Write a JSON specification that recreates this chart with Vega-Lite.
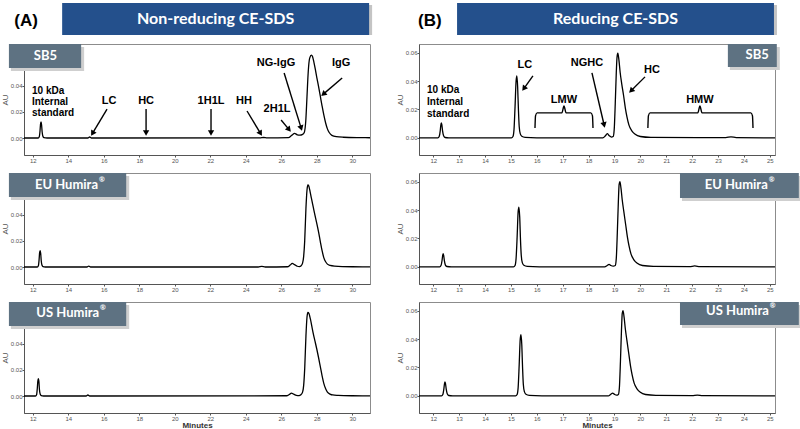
{
"$schema": "https://vega.github.io/schema/vega-lite/v6.json",
"background": "white",
"padding": {"left": 0, "top": 3, "right": 0, "bottom": 0},
"config": {
  "font": "Liberation Sans",
  "view": {"stroke": "#8c8c8c"},
  "axis": {"grid": false, "domainColor": "#555", "tickColor": "#555", "tickSize": 2, "labelFontSize": 6, "labelColor": "#555", "labelPadding": 0, "titleFontSize": 8, "titleFontWeight": "normal", "titleColor": "#555", "titlePadding": 1}
},
"datasets": {
  "headers": [
    {"col": "A", "kind": "banner", "t": 13.65, "t2": 30.95},
    {"col": "A", "kind": "title", "t": 22.3, "label": "Non-reducing CE-SDS"},
    {"col": "A", "kind": "tag", "t": 11.62, "label": "(A)"},
    {"col": "B", "kind": "banner", "t": 12.92, "t2": 25.16},
    {"col": "B", "kind": "title", "t": 19.04, "label": "Reducing CE-SDS"},
    {"col": "B", "kind": "tag", "t": 11.87, "label": "(B)"}
  ],
  "traces": [
    {"panel":"A1","t":11.5,"au":0},{"panel":"A1","t":12.3,"au":0},{"panel":"A1","t":12.36,"au":0.001},{"panel":"A1","t":12.4,"au":0.005},{"panel":"A1","t":12.43,"au":0.0105},{"panel":"A1","t":12.46,"au":0.0123},{"panel":"A1","t":12.49,"au":0.0102},{"panel":"A1","t":12.52,"au":0.005},{"panel":"A1","t":12.56,"au":0.0015},{"panel":"A1","t":12.62,"au":0.0003},{"panel":"A1","t":12.8,"au":0},{"panel":"A1","t":15.1,"au":0},{"panel":"A1","t":15.2,"au":0.0008},{"panel":"A1","t":15.3,"au":0},{"panel":"A1","t":24.8,"au":0.0001},{"panel":"A1","t":25.0,"au":0.0004},{"panel":"A1","t":25.2,"au":0.0001},{"panel":"A1","t":26.4,"au":0.0003},{"panel":"A1","t":26.6,"au":0.0022},{"panel":"A1","t":26.75,"au":0.0035},{"panel":"A1","t":26.9,"au":0.0025},{"panel":"A1","t":27.05,"au":0.0022},{"panel":"A1","t":27.2,"au":0.0028},{"panel":"A1","t":27.3,"au":0.0045},{"panel":"A1","t":27.38,"au":0.013},{"panel":"A1","t":27.45,"au":0.032},{"panel":"A1","t":27.52,"au":0.051},{"panel":"A1","t":27.6,"au":0.0612},{"panel":"A1","t":27.7,"au":0.0635},{"panel":"A1","t":27.76,"au":0.0625},{"panel":"A1","t":27.84,"au":0.058},{"panel":"A1","t":27.92,"au":0.0525},{"panel":"A1","t":28.0,"au":0.0465},{"panel":"A1","t":28.1,"au":0.0395},{"panel":"A1","t":28.2,"au":0.032},{"panel":"A1","t":28.3,"au":0.0245},{"panel":"A1","t":28.4,"au":0.0175},{"panel":"A1","t":28.5,"au":0.0115},{"panel":"A1","t":28.6,"au":0.007},{"panel":"A1","t":28.7,"au":0.0042},{"panel":"A1","t":28.85,"au":0.002},{"panel":"A1","t":29.1,"au":0.001},{"panel":"A1","t":29.5,"au":0.0006},{"panel":"A1","t":30.5,"au":0.0003},{"panel":"A1","t":31.0,"au":0.0002},
    {"panel":"A2","t":11.5,"au":0},{"panel":"A2","t":12.25,"au":0},{"panel":"A2","t":12.31,"au":0.001},{"panel":"A2","t":12.35,"au":0.0055},{"panel":"A2","t":12.38,"au":0.011},{"panel":"A2","t":12.41,"au":0.0126},{"panel":"A2","t":12.44,"au":0.0105},{"panel":"A2","t":12.47,"au":0.005},{"panel":"A2","t":12.51,"au":0.0015},{"panel":"A2","t":12.57,"au":0.0003},{"panel":"A2","t":12.7,"au":0},{"panel":"A2","t":15.05,"au":0},{"panel":"A2","t":15.15,"au":0.0007},{"panel":"A2","t":15.25,"au":0},{"panel":"A2","t":24.7,"au":0},{"panel":"A2","t":24.9,"au":0.0005},{"panel":"A2","t":25.1,"au":0},{"panel":"A2","t":26.35,"au":0.0002},{"panel":"A2","t":26.5,"au":0.0015},{"panel":"A2","t":26.62,"au":0.0028},{"panel":"A2","t":26.75,"au":0.0018},{"panel":"A2","t":26.9,"au":0.0006},{"panel":"A2","t":27.02,"au":0.0003},{"panel":"A2","t":27.12,"au":0.001},{"panel":"A2","t":27.2,"au":0.003},{"panel":"A2","t":27.26,"au":0.008},{"panel":"A2","t":27.32,"au":0.02},{"panel":"A2","t":27.39,"au":0.045},{"panel":"A2","t":27.45,"au":0.059},{"panel":"A2","t":27.5,"au":0.0628},{"panel":"A2","t":27.55,"au":0.062},{"panel":"A2","t":27.62,"au":0.058},{"panel":"A2","t":27.7,"au":0.0525},{"panel":"A2","t":27.8,"au":0.046},{"panel":"A2","t":27.9,"au":0.0395},{"panel":"A2","t":28.0,"au":0.0335},{"panel":"A2","t":28.1,"au":0.027},{"panel":"A2","t":28.2,"au":0.0195},{"panel":"A2","t":28.3,"au":0.0125},{"panel":"A2","t":28.4,"au":0.007},{"panel":"A2","t":28.5,"au":0.004},{"panel":"A2","t":28.6,"au":0.0022},{"panel":"A2","t":28.75,"au":0.0012},{"panel":"A2","t":29.0,"au":0.0007},{"panel":"A2","t":30.0,"au":0.0002},{"panel":"A2","t":31.0,"au":0.0001},
    {"panel":"A3","t":11.5,"au":0},{"panel":"A3","t":12.15,"au":0},{"panel":"A3","t":12.21,"au":0.001},{"panel":"A3","t":12.25,"au":0.006},{"panel":"A3","t":12.28,"au":0.0115},{"panel":"A3","t":12.31,"au":0.0133},{"panel":"A3","t":12.34,"au":0.011},{"panel":"A3","t":12.37,"au":0.005},{"panel":"A3","t":12.41,"au":0.0015},{"panel":"A3","t":12.47,"au":0.0003},{"panel":"A3","t":12.6,"au":0},{"panel":"A3","t":15.0,"au":0},{"panel":"A3","t":15.1,"au":0.0008},{"panel":"A3","t":15.2,"au":0},{"panel":"A3","t":26.3,"au":0.0002},{"panel":"A3","t":26.45,"au":0.0012},{"panel":"A3","t":26.57,"au":0.0022},{"panel":"A3","t":26.7,"au":0.0014},{"panel":"A3","t":26.85,"au":0.0005},{"panel":"A3","t":27.0,"au":0.0003},{"panel":"A3","t":27.1,"au":0.001},{"panel":"A3","t":27.2,"au":0.003},{"panel":"A3","t":27.26,"au":0.008},{"panel":"A3","t":27.32,"au":0.021},{"panel":"A3","t":27.39,"au":0.046},{"panel":"A3","t":27.45,"au":0.0605},{"panel":"A3","t":27.5,"au":0.064},{"panel":"A3","t":27.56,"au":0.0632},{"panel":"A3","t":27.64,"au":0.059},{"panel":"A3","t":27.72,"au":0.0535},{"panel":"A3","t":27.8,"au":0.048},{"panel":"A3","t":27.9,"au":0.042},{"panel":"A3","t":28.0,"au":0.036},{"panel":"A3","t":28.1,"au":0.0295},{"panel":"A3","t":28.2,"au":0.0225},{"panel":"A3","t":28.3,"au":0.0155},{"panel":"A3","t":28.4,"au":0.0095},{"panel":"A3","t":28.5,"au":0.0055},{"panel":"A3","t":28.6,"au":0.003},{"panel":"A3","t":28.75,"au":0.0015},{"panel":"A3","t":28.9,"au":0.0008},{"panel":"A3","t":29.2,"au":0.0005},{"panel":"A3","t":30.0,"au":0.0002},{"panel":"A3","t":31.0,"au":0.0001},
    {"panel":"B1","t":11.45,"au":0},{"panel":"B1","t":12.18,"au":0},{"panel":"B1","t":12.23,"au":0.001},{"panel":"B1","t":12.27,"au":0.005},{"panel":"B1","t":12.29,"au":0.0085},{"panel":"B1","t":12.31,"au":0.0106},{"panel":"B1","t":12.33,"au":0.0095},{"panel":"B1","t":12.36,"au":0.005},{"panel":"B1","t":12.4,"au":0.0015},{"panel":"B1","t":12.46,"au":0.0003},{"panel":"B1","t":12.6,"au":0},{"panel":"B1","t":15.02,"au":0},{"panel":"B1","t":15.08,"au":0.001},{"panel":"B1","t":15.12,"au":0.006},{"panel":"B1","t":15.16,"au":0.022},{"panel":"B1","t":15.2,"au":0.04},{"panel":"B1","t":15.23,"au":0.0435},{"panel":"B1","t":15.26,"au":0.036},{"panel":"B1","t":15.29,"au":0.02},{"panel":"B1","t":15.32,"au":0.008},{"panel":"B1","t":15.36,"au":0.003},{"panel":"B1","t":15.42,"au":0.0012},{"panel":"B1","t":15.55,"au":0.0004},{"panel":"B1","t":16.0,"au":0.0001},{"panel":"B1","t":18.55,"au":0},{"panel":"B1","t":18.65,"au":0.0015},{"panel":"B1","t":18.72,"au":0.003},{"panel":"B1","t":18.8,"au":0.0015},{"panel":"B1","t":18.88,"au":0.0006},{"panel":"B1","t":18.95,"au":0.001},{"panel":"B1","t":18.99,"au":0.006},{"panel":"B1","t":19.03,"au":0.024},{"panel":"B1","t":19.07,"au":0.046},{"panel":"B1","t":19.1,"au":0.057},{"panel":"B1","t":19.13,"au":0.0595},{"panel":"B1","t":19.17,"au":0.055},{"panel":"B1","t":19.22,"au":0.046},{"panel":"B1","t":19.28,"au":0.038},{"panel":"B1","t":19.35,"au":0.03},{"panel":"B1","t":19.42,"au":0.021},{"panel":"B1","t":19.48,"au":0.015},{"panel":"B1","t":19.56,"au":0.009},{"panel":"B1","t":19.67,"au":0.005},{"panel":"B1","t":19.8,"au":0.0025},{"panel":"B1","t":20.0,"au":0.001},{"panel":"B1","t":20.4,"au":0.0004},{"panel":"B1","t":23.3,"au":0.0002},{"panel":"B1","t":23.5,"au":0.0008},{"panel":"B1","t":23.7,"au":0.0002},{"panel":"B1","t":25.2,"au":0},
    {"panel":"B2","t":11.45,"au":0},{"panel":"B2","t":12.25,"au":0},{"panel":"B2","t":12.3,"au":0.001},{"panel":"B2","t":12.34,"au":0.0045},{"panel":"B2","t":12.36,"au":0.0075},{"panel":"B2","t":12.38,"au":0.0093},{"panel":"B2","t":12.4,"au":0.0083},{"panel":"B2","t":12.43,"au":0.0045},{"panel":"B2","t":12.47,"au":0.0013},{"panel":"B2","t":12.53,"au":0.0003},{"panel":"B2","t":12.7,"au":0},{"panel":"B2","t":15.1,"au":0},{"panel":"B2","t":15.16,"au":0.001},{"panel":"B2","t":15.2,"au":0.006},{"panel":"B2","t":15.24,"au":0.021},{"panel":"B2","t":15.28,"au":0.039},{"panel":"B2","t":15.31,"au":0.042},{"panel":"B2","t":15.34,"au":0.035},{"panel":"B2","t":15.37,"au":0.019},{"panel":"B2","t":15.4,"au":0.008},{"panel":"B2","t":15.44,"au":0.003},{"panel":"B2","t":15.5,"au":0.0012},{"panel":"B2","t":15.63,"au":0.0004},{"panel":"B2","t":16.1,"au":0.0001},{"panel":"B2","t":18.62,"au":0},{"panel":"B2","t":18.72,"au":0.001},{"panel":"B2","t":18.79,"au":0.0018},{"panel":"B2","t":18.86,"au":0.001},{"panel":"B2","t":18.95,"au":0.0005},{"panel":"B2","t":19.03,"au":0.001},{"panel":"B2","t":19.07,"au":0.006},{"panel":"B2","t":19.11,"au":0.024},{"panel":"B2","t":19.15,"au":0.046},{"panel":"B2","t":19.18,"au":0.058},{"panel":"B2","t":19.21,"au":0.06},{"panel":"B2","t":19.25,"au":0.0555},{"panel":"B2","t":19.3,"au":0.047},{"panel":"B2","t":19.36,"au":0.039},{"panel":"B2","t":19.43,"au":0.03},{"panel":"B2","t":19.5,"au":0.021},{"panel":"B2","t":19.56,"au":0.015},{"panel":"B2","t":19.64,"au":0.009},{"panel":"B2","t":19.75,"au":0.005},{"panel":"B2","t":19.88,"au":0.0025},{"panel":"B2","t":20.08,"au":0.001},{"panel":"B2","t":20.5,"au":0.0004},{"panel":"B2","t":21.9,"au":0.0002},{"panel":"B2","t":22.1,"au":0.0007},{"panel":"B2","t":22.3,"au":0.0002},{"panel":"B2","t":25.2,"au":0},
    {"panel":"B3","t":11.45,"au":0},{"panel":"B3","t":12.32,"au":0},{"panel":"B3","t":12.37,"au":0.001},{"panel":"B3","t":12.41,"au":0.005},{"panel":"B3","t":12.43,"au":0.008},{"panel":"B3","t":12.45,"au":0.0099},{"panel":"B3","t":12.47,"au":0.009},{"panel":"B3","t":12.5,"au":0.005},{"panel":"B3","t":12.54,"au":0.0015},{"panel":"B3","t":12.6,"au":0.0003},{"panel":"B3","t":12.75,"au":0},{"panel":"B3","t":15.18,"au":0},{"panel":"B3","t":15.24,"au":0.001},{"panel":"B3","t":15.28,"au":0.006},{"panel":"B3","t":15.32,"au":0.022},{"panel":"B3","t":15.36,"au":0.04},{"panel":"B3","t":15.39,"au":0.043},{"panel":"B3","t":15.42,"au":0.036},{"panel":"B3","t":15.45,"au":0.02},{"panel":"B3","t":15.48,"au":0.008},{"panel":"B3","t":15.52,"au":0.003},{"panel":"B3","t":15.58,"au":0.0012},{"panel":"B3","t":15.71,"au":0.0004},{"panel":"B3","t":16.2,"au":0.0001},{"panel":"B3","t":18.76,"au":0},{"panel":"B3","t":18.86,"au":0.0012},{"panel":"B3","t":18.93,"au":0.002},{"panel":"B3","t":19.0,"au":0.0011},{"panel":"B3","t":19.08,"au":0.0005},{"panel":"B3","t":19.15,"au":0.001},{"panel":"B3","t":19.19,"au":0.006},{"panel":"B3","t":19.23,"au":0.024},{"panel":"B3","t":19.27,"au":0.046},{"panel":"B3","t":19.3,"au":0.058},{"panel":"B3","t":19.33,"au":0.06},{"panel":"B3","t":19.37,"au":0.0555},{"panel":"B3","t":19.42,"au":0.047},{"panel":"B3","t":19.48,"au":0.039},{"panel":"B3","t":19.55,"au":0.03},{"panel":"B3","t":19.62,"au":0.021},{"panel":"B3","t":19.68,"au":0.015},{"panel":"B3","t":19.76,"au":0.009},{"panel":"B3","t":19.87,"au":0.005},{"panel":"B3","t":20.0,"au":0.0025},{"panel":"B3","t":20.2,"au":0.001},{"panel":"B3","t":20.6,"au":0.0004},{"panel":"B3","t":22.0,"au":0.0002},{"panel":"B3","t":22.2,"au":0.0006},{"panel":"B3","t":22.4,"au":0.0002},{"panel":"B3","t":25.2,"au":0}
  ],
  "notes": [
    {"panel":"A1","kind":"stack","t":11.95,"au":0.0398,"label":"10 kDa\nInternal\nstandard"},
    {"panel":"A1","kind":"tag","t":16.29,"au":0.0283,"label":"LC"},
    {"panel":"A1","kind":"tag","t":18.38,"au":0.0283,"label":"HC"},
    {"panel":"A1","kind":"tag","t":22.04,"au":0.0283,"label":"1H1L"},
    {"panel":"A1","kind":"tag","t":23.9,"au":0.0283,"label":"HH"},
    {"panel":"A1","kind":"tag","t":25.76,"au":0.0222,"label":"2H1L"},
    {"panel":"A1","kind":"tag","t":25.7,"au":0.0574,"label":"NG-IgG"},
    {"panel":"A1","kind":"tag","t":29.37,"au":0.0574,"label":"IgG"},
    {"panel":"B1","kind":"stack","t":11.76,"au":0.0372,"label":"10 kDa\nInternal\nstandard"},
    {"panel":"B1","kind":"tag","t":15.54,"au":0.0513,"label":"LC"},
    {"panel":"B1","kind":"tag","t":17.05,"au":0.0267,"label":"LMW"},
    {"panel":"B1","kind":"tag","t":17.94,"au":0.0527,"label":"NGHC"},
    {"panel":"B1","kind":"tag","t":20.45,"au":0.0478,"label":"HC"},
    {"panel":"B1","kind":"tag","t":22.3,"au":0.0267,"label":"HMW"}
  ],
  "arrows": [
    {"panel":"A1","t":16.18,"au":0.0222,"t2":15.36,"au2":0.0035},
    {"panel":"A1","t":18.38,"au":0.0222,"t2":18.38,"au2":0.0038},
    {"panel":"A1","t":22.04,"au":0.0222,"t2":22.04,"au2":0.0038},
    {"panel":"A1","t":24.07,"au":0.0207,"t2":24.83,"au2":0.0035},
    {"panel":"A1","t":25.99,"au":0.0138,"t2":26.44,"au2":0.0064},
    {"panel":"A1","t":26.16,"au":0.0498,"t2":27.12,"au2":0.0076},
    {"panel":"A1","t":29.43,"au":0.0459,"t2":28.37,"au2":0.0336},
    {"panel":"B1","t":15.85,"au":0.0436,"t2":15.5,"au2":0.0347},
    {"panel":"B1","t":18.13,"au":0.0457,"t2":18.6,"au2":0.0091},
    {"panel":"B1","t":20.18,"au":0.0429,"t2":19.64,"au2":0.0331}
  ],
  "heads": [
    {"panel":"A1","t":15.36,"au":0.0035,"heading":210.7},
    {"panel":"A1","t":18.38,"au":0.0038,"heading":180},
    {"panel":"A1","t":22.04,"au":0.0038,"heading":180},
    {"panel":"A1","t":24.83,"au":0.0035,"heading":149},
    {"panel":"A1","t":26.44,"au":0.0064,"heading":140},
    {"panel":"A1","t":27.12,"au":0.0076,"heading":163},
    {"panel":"A1","t":28.37,"au":0.0336,"heading":229},
    {"panel":"B1","t":15.5,"au":0.0347,"heading":216},
    {"panel":"B1","t":18.6,"au":0.0091,"heading":167},
    {"panel":"B1","t":19.64,"au":0.0331,"heading":225}
  ],
  "braces": [
    {"brace":"LMW","t":15.93,"au":0.007},{"brace":"LMW","t":15.95,"au":0.0155},{"brace":"LMW","t":16.01,"au":0.0176},{"brace":"LMW","t":16.97,"au":0.0176},{"brace":"LMW","t":17.05,"au":0.0225},{"brace":"LMW","t":17.13,"au":0.0176},{"brace":"LMW","t":18.09,"au":0.0176},{"brace":"LMW","t":18.15,"au":0.0155},{"brace":"LMW","t":18.17,"au":0.007},
    {"brace":"HMW","t":20.29,"au":0.007},{"brace":"HMW","t":20.31,"au":0.0155},{"brace":"HMW","t":20.37,"au":0.0176},{"brace":"HMW","t":22.22,"au":0.0176},{"brace":"HMW","t":22.3,"au":0.0225},{"brace":"HMW","t":22.38,"au":0.0176},{"brace":"HMW","t":24.27,"au":0.0176},{"brace":"HMW","t":24.33,"au":0.0155},{"brace":"HMW","t":24.35,"au":0.007}
  ],
  "boxes": [
    {"panel":"A1","t":10.65,"t2":14.72,"au":0.072,"au2":0.0536},
    {"panel":"A2","t":10.65,"t2":17.26,"au":0.072,"au2":0.0536},
    {"panel":"A3","t":10.65,"t2":17.26,"au":0.072,"au2":0.0536},
    {"panel":"B1","t":23.38,"t2":25.27,"au":0.066,"au2":0.0498},
    {"panel":"B2","t":21.53,"t2":26.12,"au":0.066,"au2":0.0485},
    {"panel":"B3","t":21.53,"t2":26.12,"au":0.066,"au2":0.0499}
  ],
  "names": [
    {"panel":"A1","t":13.36,"au":0.0628,"name":"SB5","reg":""},
    {"panel":"A2","t":15.67,"au":0.063,"name":"EU Humira","reg":"®"},
    {"panel":"A3","t":15.73,"au":0.0632,"name":"US Humira","reg":"®"},
    {"panel":"B1","t":24.96,"au":0.0583,"name":"SB5","reg":""},
    {"panel":"B2","t":24.92,"au":0.0576,"name":"EU Humira","reg":"®"},
    {"panel":"B3","t":24.96,"au":0.0594,"name":"US Humira","reg":"®"}
  ]
},
"spacing": 21,
"hconcat": [
  {"spacing": 8, "vconcat": [
    {"width": 346, "height": 32, "view": {"stroke": null},
     "data": {"name": "headers"}, "transform": [{"filter": "datum.col === 'A'"}],
     "encoding": {"x": {"field": "t", "type": "quantitative", "scale": {"domain": [11.5, 31.0], "nice": false, "zero": false}, "axis": null}},
     "layer": [
       {"transform": [{"filter": "datum.kind === 'banner'"}], "mark": {"type": "rect", "color": "#c4c4c4", "xOffset": 2, "x2Offset": 3, "yOffset": 2, "y2Offset": 3}, "encoding": {"x2": {"field": "t2"}}},
       {"transform": [{"filter": "datum.kind === 'banner'"}], "mark": {"type": "rect", "color": "#24508c"}, "encoding": {"x2": {"field": "t2"}}},
       {"transform": [{"filter": "datum.kind === 'title'"}], "mark": {"type": "text", "color": "white", "font": "Lato", "fontWeight": "bold", "fontSize": 16, "baseline": "middle"}, "encoding": {"text": {"field": "label"}}},
       {"transform": [{"filter": "datum.kind === 'tag'"}], "mark": {"type": "text", "color": "black", "font": "Liberation Sans", "fontWeight": "bold", "fontSize": 17, "baseline": "middle", "dy": 2}, "encoding": {"text": {"field": "label"}}}
     ]},
    {"width": 346, "height": 111,
     "encoding": {
       "x": {"field": "t", "type": "quantitative", "scale": {"domain": [11.5, 31.0], "nice": false, "zero": false}, "axis": {"values": [12,14,16,18,20,22,24,26,28,30], "format": "d", "title": null}},
       "y": {"field": "au", "type": "quantitative", "scale": {"domain": [-0.013, 0.072], "nice": false, "zero": false}, "axis": {"values": [0, 0.02, 0.04], "format": ".2f", "title": "AU"}}},
     "layer": [
       {"data": {"name": "traces"}, "transform": [{"filter": "datum.panel === 'A1'"}], "mark": {"type": "line", "color": "black", "strokeWidth": 1.3, "interpolate": "monotone"}},
       {"data": {"name": "arrows"}, "transform": [{"filter": "datum.panel === 'A1'"}], "mark": {"type": "rule", "color": "black", "strokeWidth": 1.4}, "encoding": {"x2": {"field": "t2"}, "y2": {"field": "au2"}}},
       {"data": {"name": "heads"}, "transform": [{"filter": "datum.panel === 'A1'"}], "mark": {"type": "point", "shape": "triangle-up", "filled": true, "color": "black", "opacity": 1, "size": 40}, "encoding": {"angle": {"field": "heading", "type": "quantitative", "scale": null}}},
       {"data": {"name": "notes"}, "transform": [{"filter": "datum.panel === 'A1' && datum.kind === 'tag'"}], "mark": {"type": "text", "font": "Liberation Sans", "fontWeight": "bold", "fontSize": 11, "color": "black", "baseline": "middle"}, "encoding": {"text": {"field": "label"}}},
       {"data": {"name": "notes"}, "transform": [{"filter": "datum.panel === 'A1' && datum.kind === 'stack'"}], "mark": {"type": "text", "font": "Liberation Sans", "fontWeight": "bold", "fontSize": 10, "color": "black", "align": "left", "baseline": "top", "lineBreak": "\n", "lineHeight": 11}, "encoding": {"text": {"field": "label"}}},
       {"data": {"name": "boxes"}, "transform": [{"filter": "datum.panel === 'A1'"}], "mark": {"type": "rect", "color": "#cfcfcf", "xOffset": 2, "x2Offset": 3, "yOffset": 3, "y2Offset": 3}, "encoding": {"x2": {"field": "t2"}, "y2": {"field": "au2"}}},
       {"data": {"name": "boxes"}, "transform": [{"filter": "datum.panel === 'A1'"}], "mark": {"type": "rect", "color": "#5e7282"}, "encoding": {"x2": {"field": "t2"}, "y2": {"field": "au2"}}},
       {"data": {"name": "names"}, "transform": [{"filter": "datum.panel === 'A1'"}], "mark": {"type": "text", "font": "Lato", "fontWeight": "bold", "fontSize": 13, "color": "white", "align": "right", "baseline": "middle"}, "encoding": {"text": {"field": "name"}}}
     ]},
    {"width": 346, "height": 111,
     "encoding": {
       "x": {"field": "t", "type": "quantitative", "scale": {"domain": [11.5, 31.0], "nice": false, "zero": false}, "axis": {"values": [12,14,16,18,20,22,24,26,28,30], "format": "d", "title": null}},
       "y": {"field": "au", "type": "quantitative", "scale": {"domain": [-0.013, 0.072], "nice": false, "zero": false}, "axis": {"values": [0, 0.02, 0.04], "format": ".2f", "title": "AU"}}},
     "layer": [
       {"data": {"name": "traces"}, "transform": [{"filter": "datum.panel === 'A2'"}], "mark": {"type": "line", "color": "black", "strokeWidth": 1.3, "interpolate": "monotone"}},
       {"data": {"name": "boxes"}, "transform": [{"filter": "datum.panel === 'A2'"}], "mark": {"type": "rect", "color": "#cfcfcf", "xOffset": 2, "x2Offset": 3, "yOffset": 3, "y2Offset": 3}, "encoding": {"x2": {"field": "t2"}, "y2": {"field": "au2"}}},
       {"data": {"name": "boxes"}, "transform": [{"filter": "datum.panel === 'A2'"}], "mark": {"type": "rect", "color": "#5e7282"}, "encoding": {"x2": {"field": "t2"}, "y2": {"field": "au2"}}},
       {"data": {"name": "names"}, "transform": [{"filter": "datum.panel === 'A2'"}], "mark": {"type": "text", "font": "Lato", "fontWeight": "bold", "fontSize": 13, "color": "white", "align": "right", "baseline": "middle"}, "encoding": {"text": {"field": "name"}}},
       {"data": {"name": "names"}, "transform": [{"filter": "datum.panel === 'A2'"}], "mark": {"type": "text", "font": "Lato", "fontWeight": "bold", "fontSize": 7, "color": "white", "align": "left", "baseline": "middle", "dx": 1, "dy": -5}, "encoding": {"text": {"field": "reg"}}}
     ]},
    {"width": 346, "height": 111,
     "encoding": {
       "x": {"field": "t", "type": "quantitative", "scale": {"domain": [11.5, 31.0], "nice": false, "zero": false}, "axis": {"values": [12,14,16,18,20,22,24,26,28,30], "format": "d", "title": "Minutes", "titleFontWeight": "bold", "titleColor": "#333", "titlePadding": 0}},
       "y": {"field": "au", "type": "quantitative", "scale": {"domain": [-0.013, 0.072], "nice": false, "zero": false}, "axis": {"values": [0, 0.02, 0.04], "format": ".2f", "title": "AU"}}},
     "layer": [
       {"data": {"name": "traces"}, "transform": [{"filter": "datum.panel === 'A3'"}], "mark": {"type": "line", "color": "black", "strokeWidth": 1.3, "interpolate": "monotone"}},
       {"data": {"name": "boxes"}, "transform": [{"filter": "datum.panel === 'A3'"}], "mark": {"type": "rect", "color": "#cfcfcf", "xOffset": 2, "x2Offset": 3, "yOffset": 3, "y2Offset": 3}, "encoding": {"x2": {"field": "t2"}, "y2": {"field": "au2"}}},
       {"data": {"name": "boxes"}, "transform": [{"filter": "datum.panel === 'A3'"}], "mark": {"type": "rect", "color": "#5e7282"}, "encoding": {"x2": {"field": "t2"}, "y2": {"field": "au2"}}},
       {"data": {"name": "names"}, "transform": [{"filter": "datum.panel === 'A3'"}], "mark": {"type": "text", "font": "Lato", "fontWeight": "bold", "fontSize": 13, "color": "white", "align": "right", "baseline": "middle"}, "encoding": {"text": {"field": "name"}}},
       {"data": {"name": "names"}, "transform": [{"filter": "datum.panel === 'A3'"}], "mark": {"type": "text", "font": "Lato", "fontWeight": "bold", "fontSize": 7, "color": "white", "align": "left", "baseline": "middle", "dx": 1, "dy": -5}, "encoding": {"text": {"field": "reg"}}}
     ]}
  ]},
  {"spacing": 8, "vconcat": [
    {"width": 356, "height": 32, "view": {"stroke": null},
     "data": {"name": "headers"}, "transform": [{"filter": "datum.col === 'B'"}],
     "encoding": {"x": {"field": "t", "type": "quantitative", "scale": {"domain": [11.45, 25.2], "nice": false, "zero": false}, "axis": null}},
     "layer": [
       {"transform": [{"filter": "datum.kind === 'banner'"}], "mark": {"type": "rect", "color": "#c4c4c4", "xOffset": 2, "x2Offset": 3, "yOffset": 2, "y2Offset": 3}, "encoding": {"x2": {"field": "t2"}}},
       {"transform": [{"filter": "datum.kind === 'banner'"}], "mark": {"type": "rect", "color": "#24508c"}, "encoding": {"x2": {"field": "t2"}}},
       {"transform": [{"filter": "datum.kind === 'title'"}], "mark": {"type": "text", "color": "white", "font": "Lato", "fontWeight": "bold", "fontSize": 16, "baseline": "middle"}, "encoding": {"text": {"field": "label"}}},
       {"transform": [{"filter": "datum.kind === 'tag'"}], "mark": {"type": "text", "color": "black", "font": "Liberation Sans", "fontWeight": "bold", "fontSize": 17, "baseline": "middle", "dy": 2}, "encoding": {"text": {"field": "label"}}}
     ]},
    {"width": 356, "height": 111,
     "encoding": {
       "x": {"field": "t", "type": "quantitative", "scale": {"domain": [11.45, 25.2], "nice": false, "zero": false}, "axis": {"values": [12,13,14,15,16,17,18,19,20,21,22,23,24,25], "format": "d", "title": null}},
       "y": {"field": "au", "type": "quantitative", "scale": {"domain": [-0.012, 0.066], "nice": false, "zero": false}, "axis": {"values": [0, 0.02, 0.04, 0.06], "format": ".2f", "title": "AU"}}},
     "layer": [
       {"data": {"name": "traces"}, "transform": [{"filter": "datum.panel === 'B1'"}], "mark": {"type": "line", "color": "black", "strokeWidth": 1.3, "interpolate": "monotone"}},
       {"data": {"name": "braces"}, "mark": {"type": "line", "color": "black", "strokeWidth": 1.4, "interpolate": "monotone"}, "encoding": {"detail": {"field": "brace"}}},
       {"data": {"name": "arrows"}, "transform": [{"filter": "datum.panel === 'B1'"}], "mark": {"type": "rule", "color": "black", "strokeWidth": 1.4}, "encoding": {"x2": {"field": "t2"}, "y2": {"field": "au2"}}},
       {"data": {"name": "heads"}, "transform": [{"filter": "datum.panel === 'B1'"}], "mark": {"type": "point", "shape": "triangle-up", "filled": true, "color": "black", "opacity": 1, "size": 40}, "encoding": {"angle": {"field": "heading", "type": "quantitative", "scale": null}}},
       {"data": {"name": "notes"}, "transform": [{"filter": "datum.panel === 'B1' && datum.kind === 'tag'"}], "mark": {"type": "text", "font": "Liberation Sans", "fontWeight": "bold", "fontSize": 11, "color": "black", "baseline": "middle"}, "encoding": {"text": {"field": "label"}}},
       {"data": {"name": "notes"}, "transform": [{"filter": "datum.panel === 'B1' && datum.kind === 'stack'"}], "mark": {"type": "text", "font": "Liberation Sans", "fontWeight": "bold", "fontSize": 10, "color": "black", "align": "left", "baseline": "top", "lineBreak": "\n", "lineHeight": 12}, "encoding": {"text": {"field": "label"}}},
       {"data": {"name": "boxes"}, "transform": [{"filter": "datum.panel === 'B1'"}], "mark": {"type": "rect", "color": "#cfcfcf", "xOffset": 2, "x2Offset": 3, "yOffset": 3, "y2Offset": 3}, "encoding": {"x2": {"field": "t2"}, "y2": {"field": "au2"}}},
       {"data": {"name": "boxes"}, "transform": [{"filter": "datum.panel === 'B1'"}], "mark": {"type": "rect", "color": "#5e7282"}, "encoding": {"x2": {"field": "t2"}, "y2": {"field": "au2"}}},
       {"data": {"name": "names"}, "transform": [{"filter": "datum.panel === 'B1'"}], "mark": {"type": "text", "font": "Lato", "fontWeight": "bold", "fontSize": 13, "color": "white", "align": "right", "baseline": "middle"}, "encoding": {"text": {"field": "name"}}}
     ]},
    {"width": 356, "height": 111,
     "encoding": {
       "x": {"field": "t", "type": "quantitative", "scale": {"domain": [11.45, 25.2], "nice": false, "zero": false}, "axis": {"values": [12,13,14,15,16,17,18,19,20,21,22,23,24,25], "format": "d", "title": null}},
       "y": {"field": "au", "type": "quantitative", "scale": {"domain": [-0.012, 0.066], "nice": false, "zero": false}, "axis": {"values": [0, 0.02, 0.04, 0.06], "format": ".2f", "title": "AU"}}},
     "layer": [
       {"data": {"name": "traces"}, "transform": [{"filter": "datum.panel === 'B2'"}], "mark": {"type": "line", "color": "black", "strokeWidth": 1.3, "interpolate": "monotone"}},
       {"data": {"name": "boxes"}, "transform": [{"filter": "datum.panel === 'B2'"}], "mark": {"type": "rect", "color": "#cfcfcf", "xOffset": 2, "x2Offset": 3, "yOffset": 3, "y2Offset": 3}, "encoding": {"x2": {"field": "t2"}, "y2": {"field": "au2"}}},
       {"data": {"name": "boxes"}, "transform": [{"filter": "datum.panel === 'B2'"}], "mark": {"type": "rect", "color": "#5e7282"}, "encoding": {"x2": {"field": "t2"}, "y2": {"field": "au2"}}},
       {"data": {"name": "names"}, "transform": [{"filter": "datum.panel === 'B2'"}], "mark": {"type": "text", "font": "Lato", "fontWeight": "bold", "fontSize": 13, "color": "white", "align": "right", "baseline": "middle"}, "encoding": {"text": {"field": "name"}}},
       {"data": {"name": "names"}, "transform": [{"filter": "datum.panel === 'B2'"}], "mark": {"type": "text", "font": "Lato", "fontWeight": "bold", "fontSize": 7, "color": "white", "align": "left", "baseline": "middle", "dx": 1, "dy": -5}, "encoding": {"text": {"field": "reg"}}}
     ]},
    {"width": 356, "height": 111,
     "encoding": {
       "x": {"field": "t", "type": "quantitative", "scale": {"domain": [11.45, 25.2], "nice": false, "zero": false}, "axis": {"values": [12,13,14,15,16,17,18,19,20,21,22,23,24,25], "format": "d", "title": "Minutes", "titleFontWeight": "bold", "titleColor": "#333", "titlePadding": 0}},
       "y": {"field": "au", "type": "quantitative", "scale": {"domain": [-0.012, 0.066], "nice": false, "zero": false}, "axis": {"values": [0, 0.02, 0.04, 0.06], "format": ".2f", "title": "AU"}}},
     "layer": [
       {"data": {"name": "traces"}, "transform": [{"filter": "datum.panel === 'B3'"}], "mark": {"type": "line", "color": "black", "strokeWidth": 1.3, "interpolate": "monotone"}},
       {"data": {"name": "boxes"}, "transform": [{"filter": "datum.panel === 'B3'"}], "mark": {"type": "rect", "color": "#cfcfcf", "xOffset": 2, "x2Offset": 3, "yOffset": 3, "y2Offset": 3}, "encoding": {"x2": {"field": "t2"}, "y2": {"field": "au2"}}},
       {"data": {"name": "boxes"}, "transform": [{"filter": "datum.panel === 'B3'"}], "mark": {"type": "rect", "color": "#5e7282"}, "encoding": {"x2": {"field": "t2"}, "y2": {"field": "au2"}}},
       {"data": {"name": "names"}, "transform": [{"filter": "datum.panel === 'B3'"}], "mark": {"type": "text", "font": "Lato", "fontWeight": "bold", "fontSize": 13, "color": "white", "align": "right", "baseline": "middle"}, "encoding": {"text": {"field": "name"}}},
       {"data": {"name": "names"}, "transform": [{"filter": "datum.panel === 'B3'"}], "mark": {"type": "text", "font": "Lato", "fontWeight": "bold", "fontSize": 7, "color": "white", "align": "left", "baseline": "middle", "dx": 1, "dy": -5}, "encoding": {"text": {"field": "reg"}}}
     ]}
  ]}
]
}
